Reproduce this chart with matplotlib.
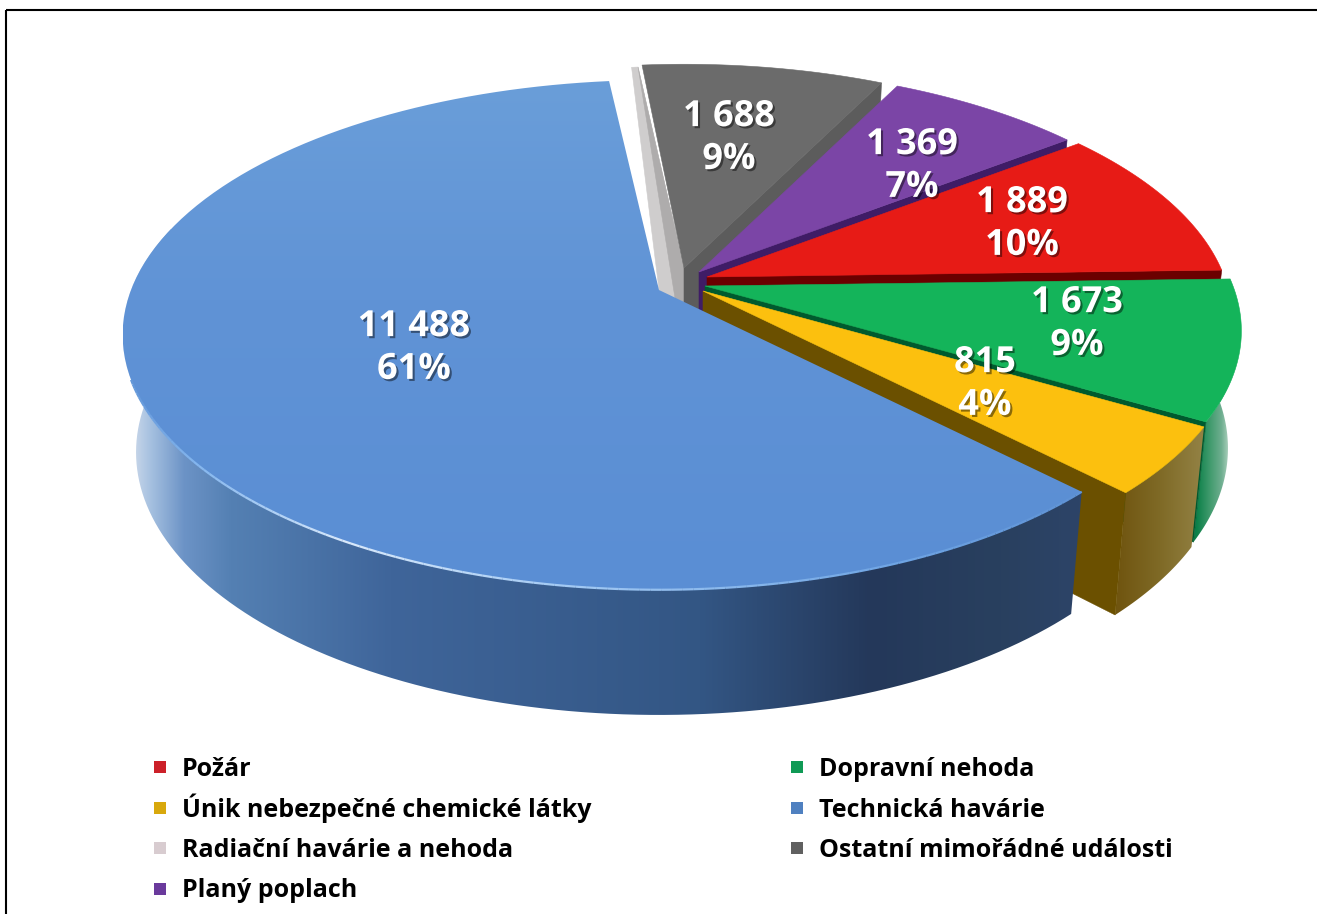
import numpy as np
import matplotlib
matplotlib.use("Agg")
import matplotlib.pyplot as plt
import matplotlib.patheffects as pe
from matplotlib.collections import LineCollection
from matplotlib.colors import to_rgb
from matplotlib.patches import Polygon

# data, in the chart's own order (clockwise)
categories = ["Požár", "Dopravní nehoda", "Únik nebezpečné chemické látky", "Technická havárie",
              "Radiační havárie a nehoda", "Ostatní mimořádné události", "Planý poplach"]
values = [1889, 1673, 815, 11488, 45, 1688, 1369]

# styles, all in reference pixels
top_colors = ["#e71b16", "#14b45a", "#fcc00e", "#5f93d6", "#cfcdcd", "#6b6b6b", "#7b45a6"]
edge_colors = ["#6b0000", "#005a2e", "#6b5000", "#24395a", "#cfcdcd", "#5c5c5c", "#3f1c66"]
legend_colors = ["#cc2029", "#0f9a55", "#d8a80c", "#4f80c0", "#d8ccd0", "#606060", "#6a3a9c"]
apex_x = [707, 705, 703, 659, 680, 684, 699]
apex_y = [277, 286, 291, 290, 270, 268, 272]
radius = [0.98, 1.0, 1.0, 1.0, 0.965, 0.965, 0.97]
label_x = [1022, 1077, 985, 414, None, 729, 912]
label_y = [224.5, 324.5, 384.5, 348.5, None, 138.5, 166.5]
START = 52.5
A, B, K = 528, 247, 0.176
SHRINK = 0.975
FONT = "Open Sans"

total = sum(values)
spans = np.array(values) / total * 360
starts = START + np.concatenate([[0], np.cumsum(spans)[:-1]])


def project(i, theta, r=None, low=False):
    """Disc angle (deg, clockwise from top) to picture pixels, with perspective."""
    r = radius[i] if r is None else r
    t = np.radians(theta)
    u, v = r * np.sin(t), -r * np.cos(t)
    s = 1 / (1 - K * v)
    x, y = A * u * s, B * v * s
    if low:
        return np.column_stack([apex_x[i] + SHRINK * x, apex_y[i] + y + 73 + 43 * s])
    return np.column_stack([apex_x[i] + x, apex_y[i] + y])


def arc(i, a, b, low=False):
    return project(i, np.linspace(a, b, 120), low=low)


def top_poly(i):
    apex = [[apex_x[i], apex_y[i]]]
    return np.vstack([apex, arc(i, starts[i], starts[i] + spans[i])])


def radial_wall(i, theta):
    rim_top = project(i, np.array([theta]))
    rim_low = project(i, np.array([theta]), low=True)
    return np.vstack([[[apex_x[i], apex_y[i]]], rim_top, rim_low, [[apex_x[i], apex_y[i] + 116]]])


def outer_wall(i, a, b):
    return np.vstack([arc(i, a, b), arc(i, a, b, low=True)[::-1]])


def stop_colors(pos, stops, colors):
    rgb = np.array([to_rgb(c) for c in colors])
    return np.column_stack([np.interp(pos, stops, rgb[:, j]) for j in range(3)])


def gradient(ax, poly, stops, colors, z, vertical=False):
    """Fill a polygon with a linear gradient, horizontal unless vertical=True."""
    x0, y0 = poly.min(axis=0)
    x1, y1 = poly.max(axis=0)
    if vertical:
        img = stop_colors(np.linspace(y0, y1, 300), stops, colors)[:, None, :]
    else:
        img = stop_colors(np.linspace(x0, x1, 600), stops, colors)[None, :, :]
    im = ax.imshow(img, extent=(x0, x1, y1, y0), origin="upper", aspect="auto",
                   interpolation="bilinear", zorder=z)
    clip = Polygon(poly, closed=True, transform=ax.transData, fc="none", ec="none")
    ax.add_patch(clip)
    im.set_clip_path(clip)


def flat(ax, poly, color, z):
    ax.add_patch(Polygon(poly, closed=True, fc=color, ec=color, lw=0.4, zorder=z))


fig = plt.figure(figsize=(13.17, 9.14), dpi=100)
ax = fig.add_axes([0, 0, 1, 1])

RED, GREEN, YELLOW, BLUE, RAD, GRAY, PURPLE = range(7)
end = starts + spans

# wall behind the blue slice, seen through the gap
rad_rim = arc(RAD, starts[RAD], end[RAD])
band = np.vstack([rad_rim, [[apex_x[GRAY], apex_y[GRAY]], [apex_x[GRAY], apex_y[GRAY] + 40],
                            [apex_x[BLUE], apex_y[BLUE]]]])
flat(ax, band, top_colors[RAD], 2)
stripe = np.vstack([rad_rim[-1:], [[apex_x[GRAY], apex_y[GRAY]], [apex_x[GRAY], apex_y[GRAY] + 40],
                                   [apex_x[GRAY] - 9, apex_y[GRAY] + 30]]])
flat(ax, stripe, "#aeacac", 3)

flat(ax, radial_wall(GRAY, end[GRAY]), edge_colors[GRAY], 4)
flat(ax, top_poly(GRAY), top_colors[GRAY], 5)
flat(ax, radial_wall(PURPLE, end[PURPLE]), edge_colors[PURPLE], 6)
flat(ax, top_poly(PURPLE), top_colors[PURPLE], 7)
flat(ax, radial_wall(RED, end[RED]), edge_colors[RED], 8)
flat(ax, top_poly(RED), top_colors[RED], 9)

gradient(ax, outer_wall(GREEN, starts[GREEN], end[GREEN]), [1197, 1210, 1222, 1234],
         ["#0b8048", "#3f9a6c", "#6fae90", "#d5e8dc"], 10)
flat(ax, radial_wall(GREEN, end[GREEN]), edge_colors[GREEN], 11)
flat(ax, top_poly(GREEN), top_colors[GREEN], 12)

gradient(ax, outer_wall(YELLOW, starts[YELLOW], end[YELLOW]), [1118, 1160, 1205],
         ["#705510", "#7f6a26", "#948346"], 13)
flat(ax, radial_wall(YELLOW, end[YELLOW]), edge_colors[YELLOW], 14)
flat(ax, top_poly(YELLOW), top_colors[YELLOW], 15)

# blue slice: shaded side wall, top face, light rim
wall_stops = [122, 135, 150, 183, 230, 390, 700, 870, 1000, 1078]
wall_cols = ["#e8eef6", "#c4d4e8", "#a5c0e0", "#6c93c6", "#5480b3", "#3f659a", "#335684", "#24385a", "#29405f", "#2d4468"]
gradient(ax, outer_wall(BLUE, starts[BLUE], 285), wall_stops, wall_cols, 16)
blue_top = top_poly(BLUE)
gradient(ax, blue_top, [80, 300, 590], ["#6a9ed9", "#6093d6", "#5a8ed4"], 17, vertical=True)

rim = arc(BLUE, starts[BLUE], 250)
rim_colors = stop_colors(rim[:-1, 0], [122, 200, 350, 560, 900, 1078],
                         ["#5f93d6", "#84b6ee", "#d9e9fb", "#a5cbf4", "#6fa5e4", "#5f93d6"])
ax.add_collection(LineCollection(np.stack([rim[:-1], rim[1:]], axis=1), colors=rim_colors,
                                 linewidths=1.6, zorder=18))

# data labels
shadow = [pe.SimplePatchShadow(offset=(1.5, -1.5), alpha=0.45, shadow_rgbFace="#000000"), pe.Normal()]
for v, x, y in zip(values, label_x, label_y):
    if x is None:
        continue
    text = f"{v:,}".replace(",", " ") + f"\n{round(v / total * 100)}%"
    ax.text(x, y, text, ha="center", va="center", color="white", fontsize=26, fontweight="bold",
            family=FONT, linespacing=1.25, zorder=20, path_effects=shadow)

# legend, filled row by row in two columns
legend_x = [160, 797]
legend_rows = [767, 808, 848, 889]
legend_base = [776, 817, 857, 897]
for n, (name, col) in enumerate(zip(categories, legend_colors)):
    x = legend_x[n % 2]
    ax.scatter([x], [legend_rows[n // 2]], marker="s", s=70, color=col, linewidths=0, zorder=20)
    ax.text(x + 22, legend_base[n // 2], name, ha="left", va="baseline", color="black", fontsize=18,
            fontweight="bold", family=FONT, zorder=20)

# frame of the original slide image
ax.plot([6, 1317], [10, 10], color="black", lw=1.5, solid_capstyle="butt", zorder=21)
ax.plot([6, 6], [10, 914], color="black", lw=1.5, solid_capstyle="butt", zorder=21)

ax.set_xlim(0, 1317)
ax.set_ylim(914, 0)
ax.axis("off")
fig.savefig("out.png", dpi=100, facecolor="white")
